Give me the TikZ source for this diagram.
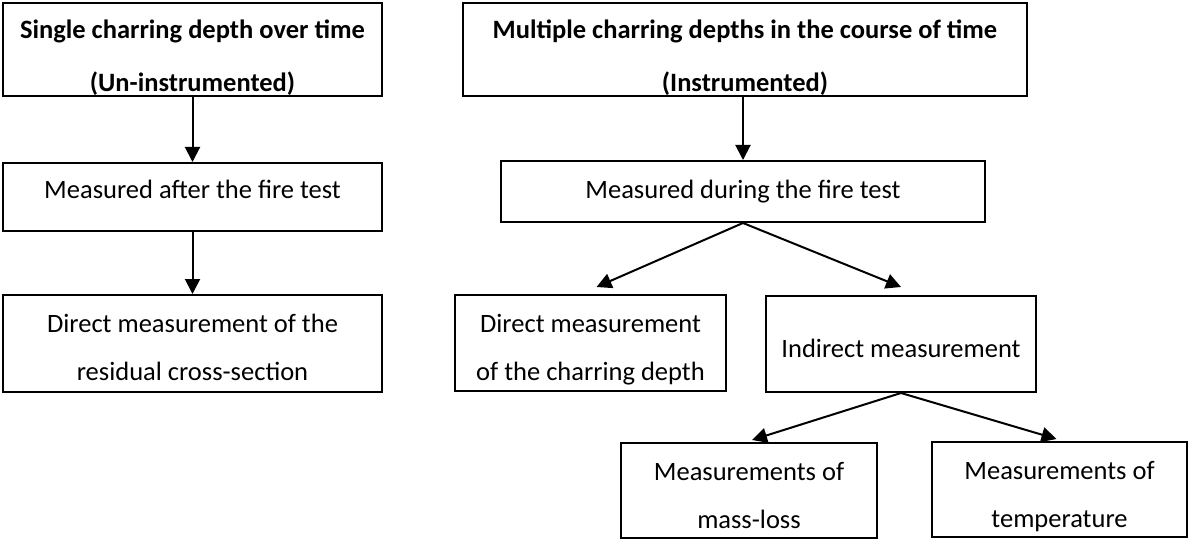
\documentclass[tikz,border=0pt]{standalone}
\usepackage{fontspec}
\setmainfont{Carlito}
\usepackage{tikz}
\usetikzlibrary{positioning,arrows.meta}

\begin{document}
\begin{tikzpicture}[x=1pt,y=-1pt]
\tikzstyle{every node}+=[inner sep=0pt]
\tikzstyle{box}=[draw=black,line width=2pt,rectangle,align=center,text depth=0pt,font=\fontsize{26.5}{48}\selectfont]
\tikzstyle{headbox}=[box,font=\fontsize{26.5}{53}\selectfont\bfseries]
\tikzstyle{link}=[line width=2pt,-{Triangle[length=15pt,width=15pt]}]
\useasboundingbox (0,0) rectangle (1189,540);
\node [headbox,minimum width=379pt,minimum height=93pt,text height=84pt] (single) at (192.5,49.5) {Single charring depth over time\\(Un-instrumented)};
\node [box,minimum width=379pt,minimum height=68pt,text height=3pt] (after) at (192.5,197) {Measured after the fire test};
\node [box,minimum width=379pt,minimum height=97pt,text height=73pt] (residual) at (192.5,343.5) {Direct measurement of the\\residual cross-section};
\node [headbox,minimum width=564pt,minimum height=93pt,text height=84pt] (multiple) at (745,49.5) {Multiple charring depths in the course of time\\(Instrumented)};
\node [box,minimum width=484pt,minimum height=61pt,text height=15pt] (during) at (743,191.5) {Measured during the fire test};
\node [box,minimum width=271pt,minimum height=96pt,text height=75pt] (direct) at (590.5,343) {Direct measurement\\of the charring depth};
\node [box,minimum width=270pt,minimum height=96pt,text height=27pt] (indirect) at (901,344) {Indirect measurement};
\node [box,minimum width=256pt,minimum height=95pt,text height=75pt] (massloss) at (749,490.5) {Measurements of\\mass-loss};
\node [box,minimum width=255pt,minimum height=95pt,text height=75pt] (temp) at (1059.5,489.5) {Measurements of\\temperature};
\draw [link] (single) -- (after);
\draw [link] (after) -- (residual);
\draw [link] (during.north |- multiple.south) -- (during.north);
\draw [link] (during.south) -- ([xshift=6pt,yshift=7pt]direct.north);
\draw [link] (during.south) -- ([yshift=8pt]indirect.north);
\draw [link] (indirect.south) -- ([xshift=3pt,yshift=2pt]massloss.north);
\draw [link] (indirect.south) -- ([xshift=-3pt,yshift=2pt]temp.north);
\end{tikzpicture}
\end{document}
